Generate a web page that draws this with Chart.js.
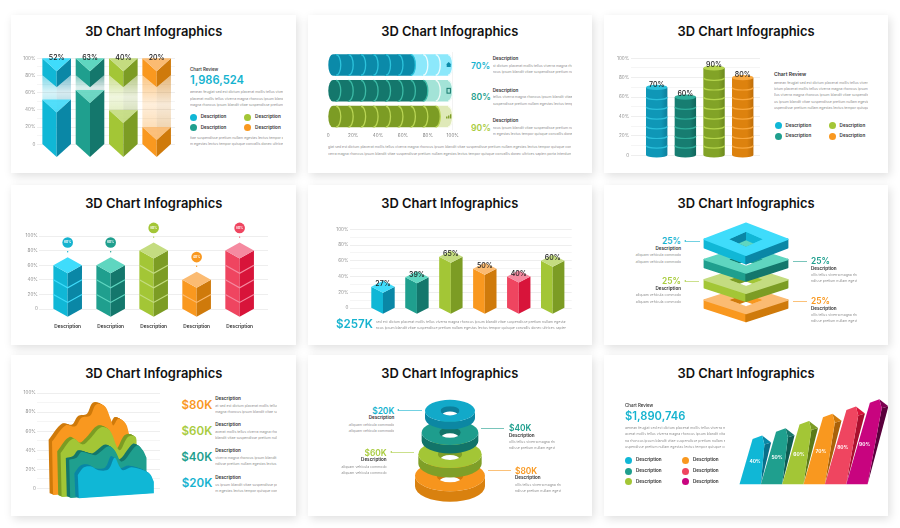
<!DOCTYPE html>
<html>
<head>
<meta charset="utf-8">
<title>3D Chart Infographics</title>
<script src="https://cdn.jsdelivr.net/npm/chart.js@4"></script>
<style>
  html, body { margin: 0; background: #fff; }
  #page { position: relative; width: 900px; height: 528px; overflow: hidden; font-family: Inter, sans-serif; }
  .card { position: absolute; background: #fff; box-shadow: 2px 3px 9px rgba(0,0,0,.13); }
  canvas { position: absolute; }
  .t { position: absolute; white-space: nowrap; line-height: 1; }
  .p { position: absolute; white-space: nowrap; overflow: hidden; line-height: 1.2; font-size: 3.5px; color: #8c8c8c; }
  .dot { position: absolute; border-radius: 50%; }
  .ln { position: absolute; height: .8px; opacity: .6; }
</style>
</head>
<body>
<div id="page"></div>
<script>
// ---- data ----
const arrowLabels = ['Blue', 'Teal', 'Green', 'Orange']
const arrowValues = [52, 63, 40, 20]
const discLabels = ['Home', 'Office', 'Growth']
const discValues = [70, 80, 90]
const cylinderLabels = ['Blue', 'Teal', 'Green', 'Orange']
const cylinderValues = [70, 60, 90, 80]
const cubeLabels = ['Description', 'Description', 'Description', 'Description', 'Description']
const cubeValues = [60, 60, 80, 40, 80]
const prismLabels = ['A', 'B', 'C', 'D', 'E', 'F']
const prismValues = [27, 39, 65, 50, 40, 60]
const frameLabels = ['Orange', 'Green', 'Teal', 'Blue']
const frameValues = [25, 25, 25, 25]
const orangeX = [12, 23, 31, 36, 43, 48, 55, 60, 62, 66, 72, 75]
const orangeY = [49, 66, 65, 74, 76, 88, 86, 72, 66, 73, 68, 56]
const greenX = [19, 29, 37, 43, 52, 59, 67, 74, 80, 81]
const greenY = [37, 52, 46, 52, 64, 61, 40, 54, 54, 42]
const tealX = [26, 32, 36, 43, 48, 58, 63, 69, 81, 86, 89]
const tealY = [30, 32, 38, 36, 35, 44, 40, 28, 45, 40, 32]
const blueX = [33, 38, 44, 50, 58, 63, 67, 70, 77, 91, 95]
const blueY = [14, 22, 23, 19, 20, 32, 23, 19, 22, 16, 7]
const ringLabels = ['$20K', '$40K', '$60K', '$80K']
const ringValues = [20, 40, 60, 80]
const slantLabels = ['40%', '50%', '60%', '70%', '80%', '90%']
const slantValues = [40, 50, 60, 70, 80, 90]

// top / left / right faces
const BLUE = ['#3fdcfb', '#10b7d6', '#0a87a6']
const TEAL = ['#5fd6c0', '#1f9f8e', '#14776c']
const GREEN = ['#c4dc80', '#a3c636', '#7c9c24']
const ORANGE = ['#fbbb72', '#f9981f', '#cf7a0b']
const RED = ['#f58aa0', '#ef4560', '#d8143a']
const MAGENTA = ['#e0218f', '#c8047f', '#7a0050']

const page = document.getElementById('page')
const INK = '#1d1d1f'
const LOREM = 'aenean feugiat sed est dictum placerat mollis tellus viverra magna rhoncus ipsum blandit vitae suspendisse pretium nullam egestas lectus tempor quisque convallis donec ultrices sapien porta interdum curabitur lacinia turpis aliquam vehicula commodo'

function text(x, y, s, size, weight, color, align) {
  const d = document.createElement('div')
  d.className = 't'
  d.textContent = s
  d.style.cssText = `left:${x}px;top:${y}px;font-size:${size}px;font-weight:${weight};color:${color};` +
    `transform:translate(${align === 'right' ? '-100%' : align === 'center' ? '-50%' : '0'},-50%)`
  page.appendChild(d)
}
function para(x, y, w, shift, align) {
  const d = document.createElement('div')
  d.className = 'p'
  d.textContent = (LOREM + ' ' + LOREM).slice(shift)
  d.style.cssText = `left:${x}px;top:${y - 2}px;width:${w}px;text-align:${align || 'left'};` + (align === 'right' ? 'direction:rtl' : '')
  page.appendChild(d)
}
function dot(x, y, r, color) {
  const d = document.createElement('div')
  d.className = 'dot'
  d.style.cssText = `left:${x - r}px;top:${y - r}px;width:${r * 2}px;height:${r * 2}px;background:${color}`
  page.appendChild(d)
}
function rule(x1, x2, y, color) {
  const d = document.createElement('div')
  d.className = 'ln'
  d.style.cssText = `left:${x1}px;top:${y - .5}px;width:${x2 - x1}px;background:${color}`
  page.appendChild(d)
}
function card(l, t, r, b, titleX, titleY) {
  const d = document.createElement('div')
  d.className = 'card'
  d.style.cssText = `left:${l}px;top:${t}px;width:${r - l}px;height:${b - t}px`
  page.appendChild(d)
  text(titleX, titleY, '3D Chart Infographics', 12.9, 600, '#111', 'center')
}

function poly(ctx, color, pts) {
  ctx.beginPath()
  pts.forEach((p, i) => i ? ctx.lineTo(p[0], p[1]) : ctx.moveTo(p[0], p[1]))
  ctx.closePath()
  ctx.fillStyle = color
  ctx.fill()
}
function rgba(hex, a) {
  const n = parseInt(hex.slice(1), 16)
  return `rgba(${n >> 16},${(n >> 8) & 255},${n & 255},${a})`
}
function label(ctx, s, x, y, size, color, weight) {
  ctx.font = `${weight || 500} ${size}px Inter, sans-serif`
  ctx.fillStyle = color || INK
  ctx.textAlign = 'center'
  ctx.textBaseline = 'middle'
  ctx.fillText(s, x, y)
}

// chart area is placed on the plot rectangle with layout padding
function makeChart(box, plot, cfg, yW, xH) {
  const c = document.createElement('canvas')
  c.width = box.r - box.l
  c.height = box.b - box.t
  c.style.left = box.l + 'px'
  c.style.top = box.t + 'px'
  page.appendChild(c)
  cfg.options = Object.assign({
    responsive: false,
    animation: false,
    layout: { padding: {
      left: plot.l - box.l - (yW || 0),
      top: plot.t - box.t,
      right: box.r - plot.r,
      bottom: box.b - plot.b - (xH || 0)
    } },
    plugins: { legend: { display: false }, tooltip: { enabled: false } }
  }, cfg.options)
  return new Chart(c.getContext('2d'), cfg)
}

const Y_W = 20
function percentAxis(step) {
  return {
    min: 0, max: 100,
    afterFit: s => { s.width = Y_W },
    border: { display: false },
    grid: {
      drawTicks: false,
      color: c => c.tick.value % 20 === 0 ? '#e6e6e6' : '#f0f0f0',
      lineWidth: .7
    },
    ticks: {
      stepSize: step,
      padding: 1.5,
      autoSkip: false,
      color: '#909090',
      font: { size: 4.6, family: 'Inter' },
      callback: v => v % 20 === 0 ? (v ? v + '%' : '0') : ''
    }
  }
}
function slotAxis(min, max) {
  return { type: 'linear', display: false, offset: false, min, max }
}
function barData(values, thickness) {
  return { datasets: [{
    data: values.map((v, i) => ({ x: i + 1, y: v })),
    backgroundColor: 'transparent',
    barThickness: thickness
  }] }
}

// ---- cards ----
card(11, 15, 296, 173, 153.7, 32.3)
card(308, 15, 592, 173, 449.8, 32.3)
card(604, 15, 888, 173, 746, 32.3)
card(11, 185, 296, 345, 153.7, 203.7)
card(308, 185, 592, 345, 449.8, 203.7)
card(604, 185, 888, 345, 746, 203.7)
card(11, 355, 296, 516, 153.7, 373.7)
card(308, 355, 592, 516, 449.8, 373.7)
card(604, 355, 888, 516, 746, 373.7)

// ---- 1: arrows ----
const arrowColors = [BLUE, TEAL, GREEN, ORANGE]
makeChart({ l: 11, t: 40, r: 185, b: 173 }, { l: 37, t: 58.3, r: 175, b: 144.3 }, {
  type: 'bar',
  data: barData(arrowValues, 28.6),
  options: { scales: { x: slotAxis(.41, 4.55), y: percentAxis(10) } },
  plugins: [{ id: 'arrows', afterDatasetsDraw(chart) {
    const ctx = chart.ctx
    const yS = chart.scales.y
    const top = yS.getPixelForValue(100)
    chart.getDatasetMeta(0).data.forEach((el, i) => {
      const [cT, cL, cR] = arrowColors[i]
      const x = el.x, y = el.y, b = el.base, w = el.width / 2
      const g = (col) => {
        const gr = ctx.createLinearGradient(0, top + 17, 0, y + 13)
        gr.addColorStop(0, rgba(col, .55))
        gr.addColorStop(.45, rgba(col, .16))
        gr.addColorStop(1, rgba(col, .4))
        return gr
      }
      poly(ctx, g(cL), [[x - w, top + 17], [x, top + 29], [x, y + 13], [x - w, y]])
      poly(ctx, g(cR), [[x + w, top + 17], [x, top + 29], [x, y + 13], [x + w, y]])
      poly(ctx, cL, [[x - w, y], [x, y + 13], [x, b + 13], [x - w, b]])
      poly(ctx, cR, [[x + w, y], [x, y + 13], [x, b + 13], [x + w, b]])
      poly(ctx, rgba(cT, .85), [[x - w, y], [x + w, y], [x, y + 13]])
      poly(ctx, cL, [[x - w, top], [x, top + 13], [x, top + 29], [x - w, top + 17]])
      poly(ctx, cR, [[x + w, top], [x, top + 13], [x, top + 29], [x + w, top + 17]])
      poly(ctx, cT, [[x - w, top], [x + w, top], [x, top + 13]])
      label(ctx, arrowValues[i] + '%', x, top, 7)
    })
  } }]
}, Y_W)
text(190, 70.3, 'Chart Review', 4.4, 600, '#444')
text(190, 81, '1,986,524', 11.2, 600, '#16b3cf')
para(190, 92, 93, 0); para(190, 98.7, 93, 30); para(190, 105, 93, 60)
;[[193.3, 117, BLUE], [193.3, 127.7, TEAL], [247.7, 117, GREEN], [247.7, 127.7, ORANGE]].forEach(([x, y, c]) => {
  dot(x, y, 3.5, c[1])
  text(x + 7.4, y, 'Description', 4.6, 600, '#333')
})
para(190, 138.3, 93, 90); para(190, 144.3, 93, 120)

// ---- 2: disc bars ----
const discColors = [['#0b8aa9', '#2cc3dc', '#8ce8fb', '#ecfcff'], ['#14776c', '#3cbba6', '#a3e3d7', '#effbf8'], ['#7c9c24', '#bad655', '#dfe9b8', '#fafcf0']]
makeChart({ l: 308, t: 40, r: 470, b: 145 }, { l: 328.3, t: 52, r: 452.7, b: 129.5 }, {
  type: 'bar',
  data: { labels: discLabels, datasets: [{ data: discValues, backgroundColor: 'transparent', barThickness: 21.5 }] },
  options: {
    indexAxis: 'y',
    scales: {
      y: { display: false },
      x: {
        min: 0, max: 100,
        afterFit: s => { s.height = 9 },
        border: { display: false },
        grid: { drawTicks: false, lineWidth: .7, color: c => c.tick.value === 100 ? '#eeeeee' : 'transparent' },
        ticks: { stepSize: 20, padding: 3, color: '#808080', font: { size: 4.6, family: 'Inter' }, maxRotation: 0,
          callback: v => v ? v + '%' : '0' }
      }
    }
  },
  plugins: [{ id: 'discs', afterDatasetsDraw(chart) {
    const ctx = chart.ctx
    const xS = chart.scales.x
    const rx = 4.6
    chart.getDatasetMeta(0).data.forEach((el, r) => {
      const [dark, stripe, pale, line] = discColors[r]
      const h = el.height / 2
      for (let i = 9; i >= 0; i--) {
        const xl = xS.getPixelForValue(i * 10) + (i ? -rx : rx)
        const xr = xS.getPixelForValue((i + 1) * 10) - rx
        const solid = (i + 1) * 10 <= discValues[r]
        ctx.beginPath()
        ctx.moveTo(xl, el.y - h)
        ctx.lineTo(xr, el.y - h)
        ctx.ellipse(xr, el.y, rx, h, 0, -Math.PI / 2, Math.PI / 2)
        ctx.lineTo(xl, el.y + h)
        ctx.ellipse(xl, el.y, rx, h, 0, Math.PI / 2, Math.PI * 1.5)
        ctx.closePath()
        ctx.fillStyle = solid ? dark : pale
        ctx.fill()
        ctx.beginPath()
        ctx.ellipse(xr, el.y, rx, h - .4, 0, -Math.PI / 2, Math.PI / 2)
        ctx.strokeStyle = solid ? stripe : line
        ctx.lineWidth = 1.3
        ctx.stroke()
      }
      // little icon on the last disc
      const ix = xS.getPixelForValue(100) - 4, iy = el.y
      if (r === 0) {
        poly(ctx, dark, [[ix - 2.6, iy - .3], [ix, iy - 2.8], [ix + 2.6, iy - .3], [ix + 2, iy - .3], [ix + 2, iy + 2.2], [ix - 2, iy + 2.2], [ix - 2, iy - .3]])
      } else if (r === 1) {
        ctx.strokeStyle = dark
        ctx.lineWidth = 1
        ctx.strokeRect(ix - 1.7, iy - 2.4, 3.4, 4.8)
      } else {
        poly(ctx, dark, [[ix - 2.6, iy + 2], [ix - 1.2, iy + 2], [ix - 1.2, iy], [ix - 2.6, iy]])
        poly(ctx, dark, [[ix - .6, iy + 2], [ix + .7, iy + 2], [ix + .7, iy - 1], [ix - .6, iy - 1]])
        poly(ctx, dark, [[ix + 1.3, iy + 2], [ix + 2.6, iy + 2], [ix + 2.6, iy - 2.4], [ix + 1.3, iy - 2.4]])
      }
    })
  } }]
}, 0, 9)
;[[59, 66, '70%', '#16b3cf'], [90.7, 97.3, '80%', '#1f9f8e'], [121.3, 128, '90%', '#a9cc3f']].forEach(([dy, py, s, c], i) => {
  text(471, py, s, 8.6, 600, c)
  text(492.7, dy, 'Description', 4.6, 600, '#333')
  para(492.7, dy + 6.7, 79, 20 + i * 25)
  para(492.7, dy + 13, 79, 70 + i * 25)
})
para(328, 147, 243, 10, 'center')
para(328, 153.7, 243, 55, 'center')

// ---- 3: cylinders ----
const cylColors = [['#0f97b7', '#2cc0db', '#0d7f9c'], ['#177d71', '#2fae9b', '#11665c'], ['#82a327', '#b5d54d', '#6d8a1d'], ['#dd820e', '#f9a83f', '#bf6e08']]
makeChart({ l: 604, t: 40, r: 770, b: 173 }, { l: 630.7, t: 58.3, r: 760, b: 155.3 }, {
  type: 'bar',
  data: barData(cylinderValues, 21.4),
  options: { scales: { x: slotAxis(.093, 4.603), y: percentAxis(10) } },
  plugins: [{ id: 'cylinders', afterDatasetsDraw(chart) {
    const ctx = chart.ctx
    const yS = chart.scales.y
    chart.getDatasetMeta(0).data.forEach((el, i) => {
      const [body, stripe, edge] = cylColors[i]
      const rx = el.width / 2, ry = 2.6
      const gr = ctx.createLinearGradient(el.x - rx, 0, el.x + rx, 0)
      gr.addColorStop(0, body)
      gr.addColorStop(.7, body)
      gr.addColorStop(1, edge)
      ctx.beginPath()
      ctx.moveTo(el.x - rx, el.y)
      ctx.lineTo(el.x - rx, el.base)
      ctx.ellipse(el.x, el.base, rx, ry, 0, Math.PI, 0, true)
      ctx.lineTo(el.x + rx, el.y)
      ctx.closePath()
      ctx.fillStyle = gr
      ctx.fill()
      for (let v = 10; v < cylinderValues[i]; v += 10) {
        const py = yS.getPixelForValue(v)
        ctx.beginPath()
        ctx.ellipse(el.x, py, rx - .2, ry, 0, Math.PI, 0, true)
        ctx.strokeStyle = stripe
        ctx.lineWidth = 1.2
        ctx.stroke()
      }
      ctx.beginPath()
      ctx.ellipse(el.x, el.y, rx, ry, 0, 0, Math.PI * 2)
      ctx.fillStyle = stripe
      ctx.fill()
      label(ctx, cylinderValues[i] + '%', el.x, el.y - 3, 7)
    })
  } }]
}, Y_W)
text(774, 74.3, 'Chart Review', 5, 600, '#333')
;[82.7, 89, 95.4, 101.8, 108.2].forEach((y, i) => para(774, y, 94, i * 24))
;[[778, 125.7, BLUE], [778, 136, TEAL], [832, 125.7, GREEN], [832, 136, ORANGE]].forEach(([x, y, c]) => {
  dot(x, y, 3.5, c[1])
  text(x + 7.6, y, 'Description', 4.6, 600, '#333')
})

// ---- 4: cube stacks ----
const cubeColors = [BLUE, TEAL, GREEN, ORANGE, RED]
const cubeBadge = ['#16b3cf', '#1f9f8e', '#a3c636', '#f9981f', '#ef4560']
function isoBar(ctx, x, y, b, w, hh, c) {
  poly(ctx, c[1], [[x - w, y], [x, y + hh], [x, b + hh], [x - w, b]])
  poly(ctx, c[2], [[x + w, y], [x, y + hh], [x, b + hh], [x + w, b]])
  poly(ctx, c[0], [[x - w, y], [x, y - hh], [x + w, y], [x, y + hh]])
}
makeChart({ l: 11, t: 212, r: 296, b: 345 }, { l: 39.3, t: 236, r: 268, b: 309 }, {
  type: 'bar',
  data: barData(cubeValues, 28.6),
  options: { scales: {
    x: {
      type: 'linear', offset: false, min: .34, max: 5.66,
      afterFit: s => { s.height = 24 },
      border: { display: false },
      grid: { display: false, drawTicks: false },
      ticks: { stepSize: 1, includeBounds: false, padding: 15, maxRotation: 0, autoSkip: false, color: '#333',
        font: { size: 4.8, weight: 600, family: 'Inter' },
        callback: v => cubeLabels[v - 1] }
    },
    y: percentAxis(20)
  } },
  plugins: [{ id: 'cubes', afterDatasetsDraw(chart) {
    const ctx = chart.ctx
    const yS = chart.scales.y
    chart.getDatasetMeta(0).data.forEach((el, i) => {
      const w = el.width / 2, hh = 8
      isoBar(ctx, el.x, el.y, el.base, w, hh, cubeColors[i])
      for (let v = 20; v < cubeValues[i]; v += 20) {
        const py = yS.getPixelForValue(v)
        ctx.beginPath()
        ctx.moveTo(el.x - w, py)
        ctx.lineTo(el.x, py + hh)
        ctx.lineTo(el.x + w, py)
        ctx.strokeStyle = cubeColors[i][0]
        ctx.lineWidth = 1.2
        ctx.stroke()
      }
      const top = el.y - hh
      ctx.beginPath()
      ctx.arc(el.x, top - 14.7, 5.3, 0, Math.PI * 2)
      ctx.fillStyle = cubeBadge[i]
      ctx.fill()
      ctx.beginPath()
      ctx.arc(el.x, top - 5.5, .7, 0, Math.PI * 2)
      ctx.fill()
      label(ctx, cubeValues[i] + '%', el.x, top - 14.7, 3, '#fff', 700)
    })
  } }]
}, Y_W, 24)

// ---- 5: prisms ----
const prismColors = [BLUE, TEAL, GREEN, ORANGE, RED, GREEN]
makeChart({ l: 308, t: 212, r: 592, b: 345 }, { l: 350, t: 229.3, r: 571.7, b: 308 }, {
  type: 'bar',
  data: barData(prismValues, 23.4),
  options: { scales: { x: slotAxis(.028, 6.56), y: percentAxis(10) } },
  plugins: [{ id: 'prisms', afterDatasetsDraw(chart) {
    const ctx = chart.ctx
    chart.getDatasetMeta(0).data.forEach((el, i) => {
      isoBar(ctx, el.x, el.y, el.base, el.width / 2, 6, prismColors[i])
      label(ctx, prismValues[i] + '%', el.x, el.y - 2.5, 7)
    })
  } }]
}, Y_W)
text(336, 325, '$257K', 11.6, 600, '#16b3cf')
para(375.7, 321.7, 190, 15)
para(375.7, 327.7, 190, 70)

// ---- 6: frames ----
const frameColors = [ORANGE, GREEN, TEAL, BLUE]
makeChart({ l: 690, t: 212, r: 800, b: 335 }, { l: 703.3, t: 219, r: 788.7, b: 300 }, {
  type: 'bar',
  data: { labels: ['Share'], datasets: frameValues.map((v, i) => ({ label: frameLabels[i], data: [v], backgroundColor: 'transparent', barThickness: 85.4 })) },
  options: { scales: { x: { display: false, stacked: true }, y: { display: false, stacked: true, min: 0, max: 100 } } },
  plugins: [{ id: 'frames', afterDatasetsDraw(chart) {
    const ctx = chart.ctx
    frameValues.forEach((v, i) => {
      const el = chart.getDatasetMeta(i).data[0]
      const c = frameColors[i]
      const x = el.x, y = el.base, w = el.width / 2
      const hh = i === 3 ? 16 : 13.5
      const th = i === 3 ? 8.5 : 8
      ctx.lineJoin = 'round'
      ctx.lineWidth = 1.4
      const face = (col, pts) => {
        poly(ctx, col, pts)
        ctx.strokeStyle = col
        ctx.stroke()
      }
      face(c[1], [[x - w + 1, y], [x, y + hh], [x, y + hh + th], [x - w + 1, y + th]])
      face(c[2], [[x + w - 1, y], [x, y + hh], [x, y + hh + th], [x + w - 1, y + th]])
      face(c[0], [[x - w + 1, y], [x, y - hh], [x + w - 1, y], [x, y + hh]])
      const hw = 17, hv = hh * .47
      ctx.save()
      ctx.beginPath()
      ctx.moveTo(x - hw, y)
      ctx.lineTo(x, y - hv)
      ctx.lineTo(x + hw, y)
      ctx.lineTo(x, y + hv)
      ctx.closePath()
      ctx.clip()
      poly(ctx, c[2], [[x - hw, y], [x, y - hv], [x, y + hv]])
      poly(ctx, c[1], [[x + hw, y], [x, y - hv], [x, y + hv]])
      poly(ctx, i === 3 ? TEAL[0] : '#ffffff', [[x - hw, y + th], [x, y - hv + th], [x + hw, y + th], [x, y + hv + th]])
      ctx.restore()
    })
  } }]
})
function leftNote(rx, y, big, color, tail, head) {
  text(rx, y, big, 8.4, 600, color, 'right')
  text(rx, y + 7.5, 'Description', 4.6, 600, '#333', 'right')
  para(rx - 46, y + 14, 46, 35, 'right')
  para(rx - 46, y + 20.4, 46, 95, 'right')
  rule(head, tail, y, color)
  triangle(head, y, color, -1)
}
function rightNote(lx, y, big, color, tail, head) {
  text(lx, y, big, 8.4, 600, color)
  text(lx, y + 7.5, 'Description', 4.6, 600, '#333')
  para(lx, y + 14, 46, 40)
  para(lx, y + 20.4, 46, 100)
  rule(tail, head, y, color)
}
function triangle(x, y, color, dir) {
  const d = document.createElement('div')
  d.style.cssText = `position:absolute;left:${dir < 0 ? x - 2 : x}px;top:${y - 1.5}px;width:0;height:0;border-top:1.5px solid transparent;border-bottom:1.5px solid transparent;` +
    (dir < 0 ? `border-right:2px solid ${color}` : `border-left:2px solid ${color}`)
  page.appendChild(d)
}
leftNote(681, 241.3, '25%', '#16b3cf', 700, 686)
leftNote(681, 281.3, '25%', '#a9cc3f', 699, 686)
rightNote(811, 261, '25%', '#1f9f8e', 792.7, 807)
rightNote(811, 301, '25%', '#f9981f', 792.7, 807)

// ---- 7: layered areas ----
const areaLayers = [
  { x: orangeX, y: orangeY, c: ORANGE, dark: '#cf7a0b', foot: 6.7 },
  { x: greenX, y: greenY, c: GREEN, dark: '#7c9c24', foot: 8.7 },
  { x: tealX, y: tealY, c: TEAL, dark: '#14776c', foot: 9.7 },
  { x: blueX, y: blueY, c: BLUE, dark: '#0a87a6', foot: 10 }
]
makeChart({ l: 11, t: 380, r: 175, b: 516 }, { l: 37.3, t: 393, r: 160, b: 488.3 }, {
  type: 'line',
  data: { datasets: areaLayers.map(l => ({
    data: l.x.map((x, i) => ({ x, y: l.y[i] })),
    borderColor: 'transparent', borderWidth: 0, pointRadius: 0, tension: .35
  })) },
  options: { scales: { x: { type: 'linear', display: false, min: 0, max: 100 }, y: percentAxis(10) } },
  plugins: [{ id: 'areas', afterDatasetsDraw(chart) {
    const ctx = chart.ctx
    const floor = chart.chartArea.bottom
    areaLayers.forEach((l, d) => {
      const pts = chart.getDatasetMeta(d).data
      const first = pts[0], last = pts[pts.length - 1]
      const shape = (ox, oy, col) => {
        ctx.beginPath()
        ctx.moveTo(first.x + ox, first.y + oy)
        for (let i = 1; i < pts.length; i++) {
          ctx.bezierCurveTo(pts[i - 1].cp2x + ox, pts[i - 1].cp2y + oy, pts[i].cp1x + ox, pts[i].cp1y + oy, pts[i].x + ox, pts[i].y + oy)
        }
        const slope = .067
        ctx.lineTo(last.x + ox, floor + l.foot - (last.x - first.x) * slope + oy)
        ctx.lineTo(first.x + 1 + ox, floor + l.foot + oy)
        ctx.closePath()
        ctx.fillStyle = col
        ctx.fill()
      }
      for (let s = 4; s > 0; s--) shape(-s * .85, -s * .45, l.dark)
      shape(0, 0, l.c[1])
    })
  } }]
}, Y_W)
;[[405.7, 398.7, '$80K', '#f9981f'], [431.7, 425, '$60K', '#a9cc3f'], [458, 451.3, '$40K', '#1f9f8e'], [484, 477.7, '$20K', '#16b3cf']].forEach(([y, dy, s, c], i) => {
  text(212.3, y, s, 11.6, 600, c, 'right')
  text(215.3, dy, 'Description', 4.6, 600, '#333')
  para(215.3, dy + 7, 62, 12 + i * 20)
  para(215.3, dy + 13, 62, 60 + i * 20)
})

// ---- 8: rings ----
const ringFaces = [['#12a9c9', '#0c87a3'], ['#1e9d8d', '#127469'], ['#a3c636', '#7f9f28'], ['#f7951d', '#d9810f']]
const ringHole = ['#0c7f9b', '#127469', '#7f9f28', '#d07a0d']
makeChart({ l: 400, t: 395, r: 500, b: 510 }, { l: 450, t: 400, r: 485, b: 486.7 }, {
  type: 'bar',
  data: { labels: ringLabels, datasets: [{ data: ringValues, backgroundColor: 'transparent', barThickness: 20 }] },
  options: { indexAxis: 'y', scales: { y: { display: false }, x: { display: false, min: -130, max: 80 } } },
  plugins: [{ id: 'rings', afterDatasetsDraw(chart) {
    const ctx = chart.ctx
    const left = chart.scales.x.left
    const els = chart.getDatasetMeta(0).data
    for (let i = els.length - 1; i >= 0; i--) {
      const el = els[i]
      const cx = left, cy = el.y
      const rx = el.x - left, ry = rx * .44, th = rx * .3
      const [top, side] = ringFaces[i]
      ctx.beginPath()
      ctx.ellipse(cx, cy, rx, ry, 0, Math.PI, 0, true)
      ctx.lineTo(cx + rx, cy + th)
      ctx.ellipse(cx, cy + th, rx, ry, 0, 0, Math.PI)
      ctx.closePath()
      ctx.fillStyle = side
      ctx.fill()
      ctx.beginPath()
      ctx.ellipse(cx, cy, rx, ry, 0, 0, Math.PI * 2)
      ctx.fillStyle = top
      ctx.fill()
      const hx = rx * .38, hy = ry * .42
      ctx.save()
      ctx.beginPath()
      ctx.ellipse(cx, cy, hx, hy, 0, 0, Math.PI * 2)
      ctx.clip()
      ctx.fillStyle = ringHole[i]
      ctx.fillRect(cx - hx, cy - hy, hx * 2, hy * 2)
      ctx.beginPath()
      ctx.ellipse(cx, cy + hy * .9, hx * .8, hy * .75, 0, 0, Math.PI * 2)
      ctx.fillStyle = '#ffffff'
      ctx.fill()
      ctx.restore()
    }
  } }]
})
leftNote(394.3, 410.7, '$20K', '#16b3cf', 422, 399.3)
leftNote(386.7, 452.7, '$60K', '#a9cc3f', 414, 392)
rightNote(509, 428, '$40K', '#1f9f8e', 481, 504)
rightNote(515, 470.7, '$80K', '#f9981f', 488, 511)

// ---- 9: slanted bars ----
const slantColors = [BLUE, TEAL, GREEN, ORANGE, RED, MAGENTA]
const slantDark = ['#0a6f8a', '#0e5c53', '#5c7a18', '#a9620a', '#a9102e', '#5a003c']
makeChart({ l: 725, t: 385, r: 888, b: 500 }, { l: 739.5, t: 392, r: 867.6, b: 484.3 }, {
  type: 'bar',
  data: { labels: slantLabels, datasets: [{ data: slantValues, backgroundColor: 'transparent', barPercentage: 1, categoryPercentage: 1 }] },
  options: { scales: { x: { display: false }, y: { display: false, min: -27, max: 100 } } },
  plugins: [{ id: 'slants', afterDatasetsDraw(chart) {
    const ctx = chart.ctx
    const base = chart.scales.y.bottom
    chart.getDatasetMeta(0).data.forEach((el, i) => {
      const front = slantColors[i][1]
      const blx = el.x - el.width / 2, brx = el.x + el.width / 2
      const peakY = el.y
      const h = base - peakY
      const px = blx + .29 * (h - 3.5) + 9.5
      const tl = [px - 9.5, peakY + 3.5]
      const ftr = [px + 2.3, peakY + 9]
      const tr = [px + 9, peakY + 7]
      poly(ctx, slantDark[i], [[brx, base], ftr, tr])
      poly(ctx, slantColors[i][2], [[px, peakY], tr, ftr])
      poly(ctx, front, [[blx, base], [brx, base], ftr, [px, peakY], tl])
    })
    chart.getDatasetMeta(0).data.forEach((el, i) => {
      const h = base - el.y
      label(ctx, slantLabels[i], el.x + h * .08 + 1, base - h * .47, 4.8, '#fff', 700)
    })
  } }]
})
text(625, 406, 'Chart Review', 4.4, 600, '#444')
text(625, 416.7, '$1,890,746', 11.2, 600, '#16b3cf')
para(625, 428, 100, 0); para(625, 434.3, 100, 32); para(625, 440.7, 100, 64); para(625, 447.3, 100, 96)
;[[628.3, 460.3, BLUE], [628.3, 471, TEAL], [628.3, 481.7, GREEN], [685.3, 460.3, ORANGE], [685.3, 471, RED], [685.3, 481.7, MAGENTA]].forEach(([x, y, c]) => {
  dot(x, y, 3.5, c[1])
  text(x + 7.7, y, 'Description', 4.6, 600, '#333')
})
</script>
</body>
</html>
